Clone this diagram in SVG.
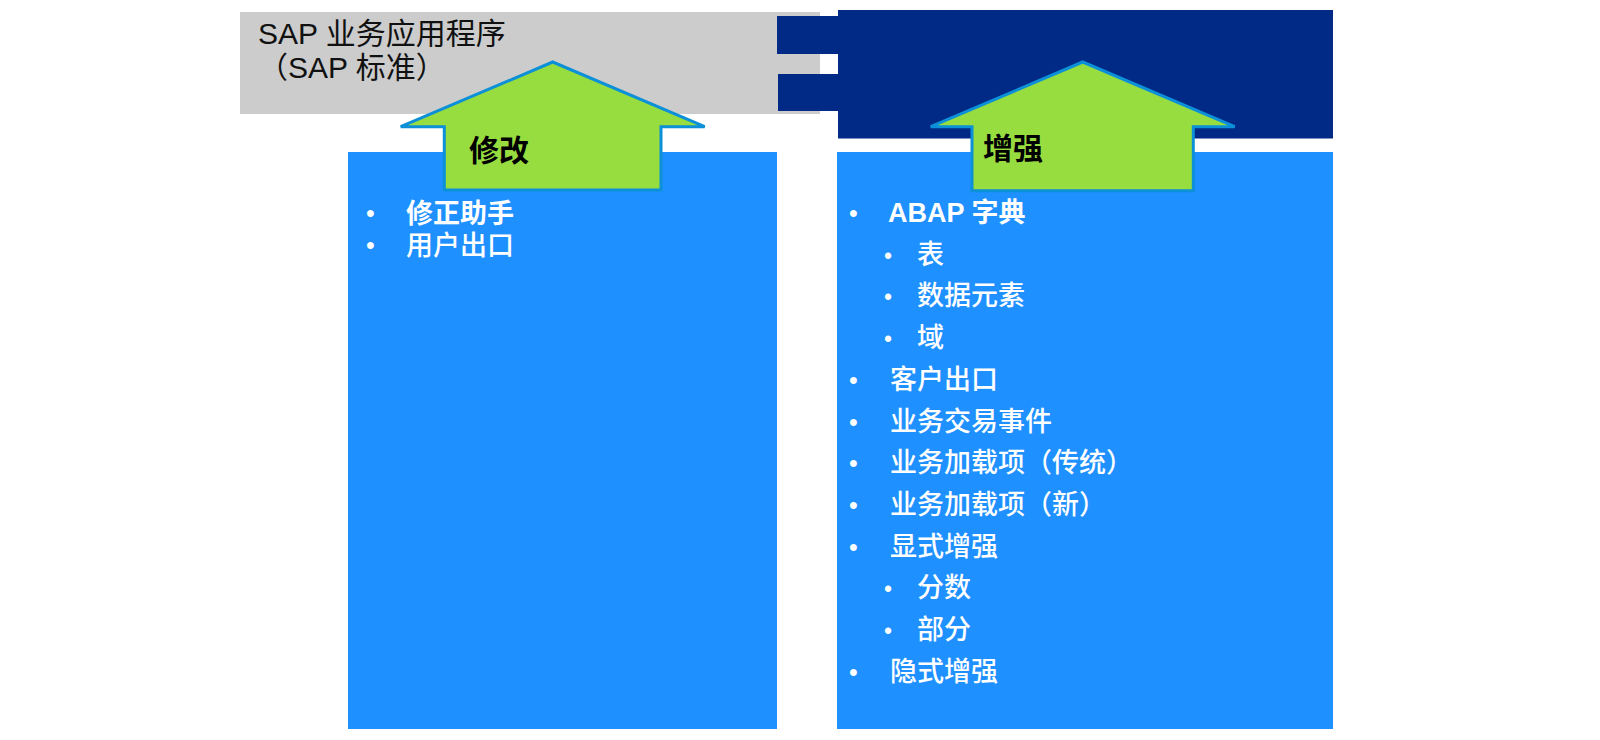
<svg xmlns="http://www.w3.org/2000/svg" width="1600" height="740" viewBox="0 0 1600 740">
  <style>
    .t { font-family: "Liberation Sans", "Noto Sans CJK SC", sans-serif; }
    .title { font-size: 30px; fill: #111111; }
    .lbl { font-size: 30px; font-weight: bold; fill: #000000; }
    .item { font-size: 27px; fill: #ffffff; font-weight: 500; }
    .b { font-weight: bold; }
    .bul { font-size: 25px; fill: #ffffff; }
    .sbul { font-size: 23px; fill: #ffffff; }
    .blue { fill: #1e90ff; }
    .dark { fill: #002a86; }
    .arrow { fill: #98dd3f; stroke: #0c90d8; stroke-width: 3; stroke-linejoin: miter; }
  </style>
  <rect width="1600" height="740" fill="#ffffff"/>

  <g id="sap-standard">
    <rect x="240" y="12" width="580" height="102" fill="#cccccc"/>
    <text class="t title" x="258" y="44">SAP 业务应用程序</text>
    <text class="t title" x="258" y="78">（SAP 标准）</text>
  </g>

  <g id="customer-layer">
    <rect class="dark" x="777" y="16" width="65" height="38"/>
    <rect class="dark" x="778" y="74" width="64" height="37"/>
    <rect class="dark" x="838" y="10" width="495" height="128.5"/>
  </g>

  <g id="modification-box">
    <rect class="blue" x="348" y="152" width="429" height="577"/>
    <text class="t bul" x="366" y="222">•</text>
    <text class="t item b" x="406" y="223">修正助手</text>
    <text class="t bul" x="366" y="254">•</text>
    <text class="t item" x="406" y="255">用户出口</text>
  </g>

  <g id="enhancement-box">
    <rect class="blue" x="837" y="152" width="496" height="577"/>
    <g>
      <text class="t bul" x="849" y="222">•</text>
      <text class="t item b" x="888" y="222">ABAP 字典</text>
      <text class="t sbul" x="884" y="263.7">•</text>
      <text class="t item" x="917" y="263.7">表</text>
      <text class="t sbul" x="884" y="305.4">•</text>
      <text class="t item" x="917" y="305.4">数据元素</text>
      <text class="t sbul" x="884" y="347.1">•</text>
      <text class="t item" x="917" y="347.1">域</text>
      <text class="t bul" x="849" y="388.8">•</text>
      <text class="t item" x="890" y="388.8">客户出口</text>
      <text class="t bul" x="849" y="430.5">•</text>
      <text class="t item" x="890" y="430.5">业务交易事件</text>
      <text class="t bul" x="849" y="472.2">•</text>
      <text class="t item" x="890" y="472.2">业务加载项（传统）</text>
      <text class="t bul" x="849" y="513.9">•</text>
      <text class="t item" x="890" y="513.9">业务加载项（新）</text>
      <text class="t bul" x="849" y="555.6">•</text>
      <text class="t item" x="890" y="555.6">显式增强</text>
      <text class="t sbul" x="884" y="597.3">•</text>
      <text class="t item" x="917" y="597.3">分数</text>
      <text class="t sbul" x="884" y="639">•</text>
      <text class="t item" x="917" y="639">部分</text>
      <text class="t bul" x="849" y="680.7">•</text>
      <text class="t item" x="890" y="680.7">隐式增强</text>
    </g>
  </g>

  <g id="connectors">
    <g id="arrow-modify">
      <polygon class="arrow" points="552.7,62 704.7,126.7 661,126.7 661,190 444.3,190 444.3,126.7 400.7,126.7"/>
      <text class="t lbl" x="469" y="161">修改</text>
    </g>
    <g id="arrow-enhance">
      <polygon class="arrow" points="1082.7,62 1234.7,126.7 1193.3,126.7 1193.3,190.7 972,190.7 972,126.7 930.7,126.7"/>
      <text class="t lbl" x="983" y="159">增强</text>
    </g>
  </g>
</svg>
